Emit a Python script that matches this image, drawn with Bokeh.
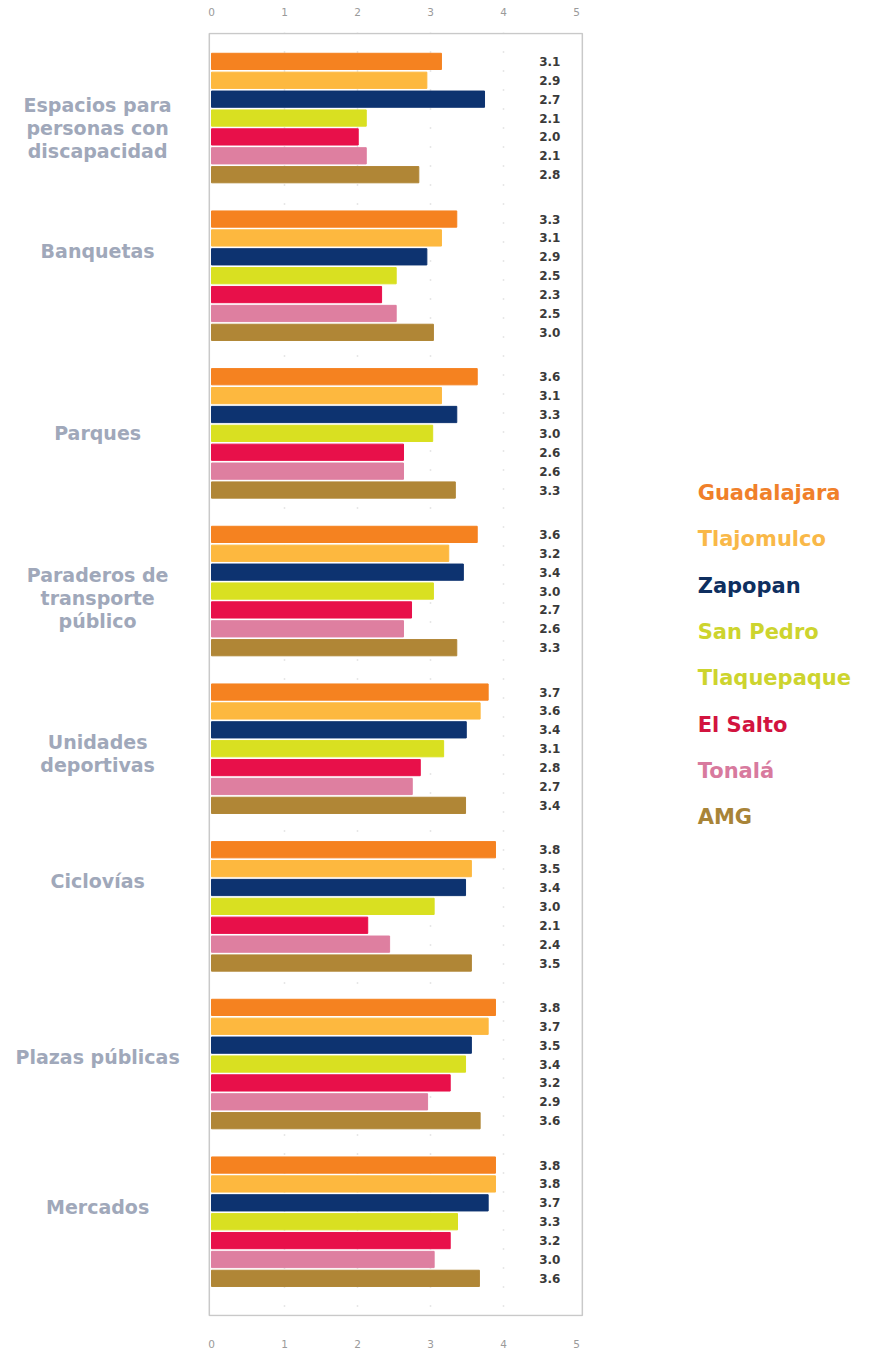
from bokeh.plotting import figure
from bokeh.models import LinearAxis, FixedTicker, Range1d, ColumnDataSource
from bokeh.core.properties import value
from bokeh.embed import file_html
from bokeh.resources import INLINE

# ---------------- data ----------------
categories = ["Espacios para\npersonas con\ndiscapacidad", "Banquetas", "Parques",
              "Paraderos de\ntransporte\npúblico", "Unidades\ndeportivas", "Ciclovías",
              "Plazas públicas", "Mercados"]
municipios = ["Guadalajara", "Tlajomulco", "Zapopan", "San Pedro\nTlaquepaque",
              "El Salto", "Tonalá", "AMG"]

# bar lengths as drawn (one list per municipality, across categories)
guadalajara = [3.15, 3.36, 3.64, 3.64, 3.79, 3.89, 3.89, 3.89]
tlajomulco  = [2.95, 3.15, 3.15, 3.25, 3.68, 3.56, 3.79, 3.89]
zapopan     = [3.74, 2.95, 3.36, 3.45, 3.49, 3.48, 3.56, 3.79]
tlaquepaque = [2.12, 2.53, 3.03, 3.04, 3.18, 3.05, 3.48, 3.37]
el_salto    = [2.01, 2.33, 2.63, 2.74, 2.86, 2.14, 3.27, 3.27]
tonala      = [2.12, 2.53, 2.63, 2.63, 2.75, 2.44, 2.96, 3.05]
amg         = [2.84, 3.04, 3.34, 3.36, 3.48, 3.56, 3.68, 3.67]
series_values = [guadalajara, tlajomulco, zapopan, tlaquepaque, el_salto, tonala, amg]

# printed value labels (as in the source)
lab_guadalajara = ["3.1", "3.3", "3.6", "3.6", "3.7", "3.8", "3.8", "3.8"]
lab_tlajomulco  = ["2.9", "3.1", "3.1", "3.2", "3.6", "3.5", "3.7", "3.8"]
lab_zapopan     = ["2.7", "2.9", "3.3", "3.4", "3.4", "3.4", "3.5", "3.7"]
lab_tlaquepaque = ["2.1", "2.5", "3.0", "3.0", "3.1", "3.0", "3.4", "3.3"]
lab_el_salto    = ["2.0", "2.3", "2.6", "2.7", "2.8", "2.1", "3.2", "3.2"]
lab_tonala      = ["2.1", "2.5", "2.6", "2.6", "2.7", "2.4", "2.9", "3.0"]
lab_amg         = ["2.8", "3.0", "3.3", "3.3", "3.4", "3.5", "3.6", "3.6"]
series_labels = [lab_guadalajara, lab_tlajomulco, lab_zapopan, lab_tlaquepaque,
                 lab_el_salto, lab_tonala, lab_amg]

x_ticks = [0, 1, 2, 3, 4, 5]

# ---------------- styles / layout ----------------
bar_colors = ["#F58220", "#FDB83F", "#0D3370", "#D9E021", "#E8104A", "#DE7FA0", "#B08636"]
legend_colors = ["#F0802A", "#F9B848", "#0E2F5F", "#CDD42E", "#D2143F", "#D87A9E", "#A88438"]
cat_color = "#A0A8BA"
FONT = "DejaVu Sans"

PX = 73.0                 # pixels per unit of x
W, FRAME_H = 872, 1286
Y_UNITS = 68.0
x0 = -211.0 / PX
x1 = x0 + W / PX

group_start = 1.53
group_step = 8.35
bar_h = 0.86
label_shift = [0.53, -1.32, 0.0, 0.37, 0.26, -1.37, -0.37, -0.79]

p = figure(width=W, height=32 + FRAME_H + 32, output_backend="svg", toolbar_location=None,
           x_range=Range1d(x0, x1), y_range=Range1d(Y_UNITS, 0),
           x_axis_location=None, y_axis_location=None,
           min_border_left=0, min_border_right=0, min_border_top=32, min_border_bottom=32)
p.outline_line_color = None
p.background_fill_color = "white"
p.border_fill_color = "white"
p.ygrid.visible = False
p.xgrid.ticker = FixedTicker(ticks=[1, 2, 3, 4])
p.xgrid.grid_line_color = "#cfcfcf"
p.xgrid.grid_line_dash = "1 18"
p.xgrid.grid_line_width = 1.5
p.xgrid.bounds = (0.05, Y_UNITS - 0.05)

for loc, standoff in (("above", 11), ("below", 17)):
    ax = LinearAxis(ticker=FixedTicker(ticks=x_ticks))
    ax.axis_line_color = None
    ax.major_tick_line_color = None
    ax.minor_tick_line_color = None
    ax.major_label_text_color = "#9a9a9a"
    ax.major_label_text_font = FONT
    ax.major_label_text_font_size = "10.5px"
    ax.major_label_standoff = standoff
    p.add_layout(ax, loc)

# frame box
p.quad(left=-0.03, right=5.08, top=0.05, bottom=Y_UNITS - 0.05,
       fill_color=None, line_color="#c9c9c9", line_width=1.5)

# bars + labels
for j, (vals, labs, col) in enumerate(zip(series_values, series_labels, bar_colors)):
    ys = [group_start + i * group_step + j for i in range(len(categories))]
    src = ColumnDataSource(dict(y=ys, right=vals, lab=labs))
    p.hbar(y="y", left=0, right="right", height=bar_h, color=col, source=src)
    p.text(x=4.78, y="y", text="lab", source=src, text_align="right",
           text_baseline="middle", text_font=value(FONT), text_font_style="bold",
           text_font_size="12px", text_color="#3a3a3a")

# category labels
cat_y = [group_start + i * group_step + 3 + label_shift[i] for i in range(len(categories))]
p.text(x=[-1.56] * len(categories), y=cat_y, text=categories, text_align="center",
       text_baseline="middle", text_font=value(FONT), text_font_style="bold",
       text_font_size="19px", text_color=cat_color, text_line_height=1.05)

# legend (text only)
leg_text, leg_col = [], []
for name, col in zip(municipios, legend_colors):
    for line in name.split("\n"):
        leg_text.append(line)
        leg_col.append(col)
leg_y0, leg_step = 24.38, 2.456
p.text(x=[6.66] * len(leg_text), y=[leg_y0 + k * leg_step for k in range(len(leg_text))],
       text=leg_text, text_color=leg_col, text_align="left", text_baseline="middle",
       text_font=value(FONT), text_font_style="bold", text_font_size="21px")

open("out.html", "w").write(file_html(p, INLINE))
